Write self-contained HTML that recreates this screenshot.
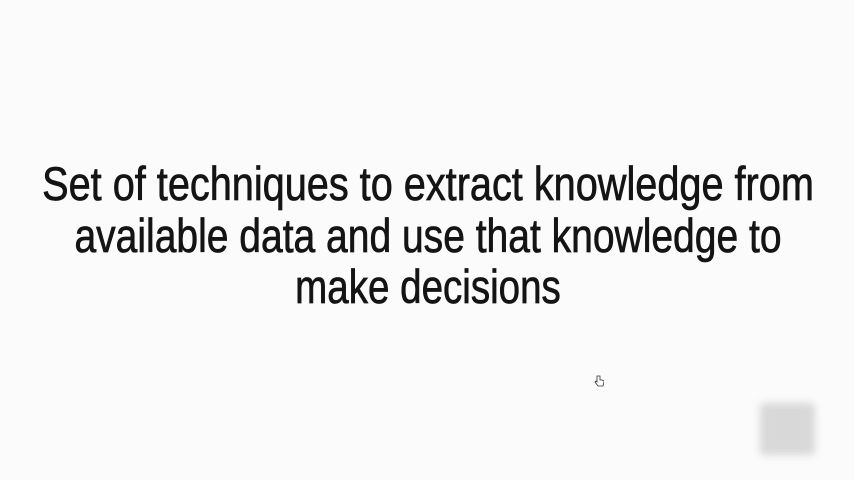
<!DOCTYPE html>
<html><head><meta charset="utf-8"><style>
html,body{margin:0;padding:0;width:854px;height:480px;background:#fbfbfb;overflow:hidden;font-family:"Liberation Sans Narrow","Liberation Sans",sans-serif;}
.l{position:absolute;left:428px;font-size:47px;color:#141414;white-space:nowrap;line-height:1;-webkit-text-stroke:0.7px #141414;}
.box{position:absolute;left:760px;top:403px;width:55px;height:52px;background:#d8d8d8;filter:blur(4px);border-radius:4px;}
</style></head><body>
<div class="l" style="top:160px;transform:translateX(-50%) scaleX(0.844);">Set of techniques to extract knowledge from</div>
<div class="l" style="top:212px;transform:translateX(-50%) scaleX(0.83);">available data and use that knowledge to</div>
<div class="l" style="top:263px;transform:translateX(-50%) scaleX(0.82);">make decisions</div>
<svg style="position:absolute;left:594px;top:375px" width="10" height="12" viewBox="0 0 10 12"><path d="M3 1v6l-1-1-1 1 3 4h5l1-4V6l-2-1-2-0V1z" fill="#fff" stroke="#333" stroke-width="0.8"/></svg>
<div class="box"></div>
</body></html>
